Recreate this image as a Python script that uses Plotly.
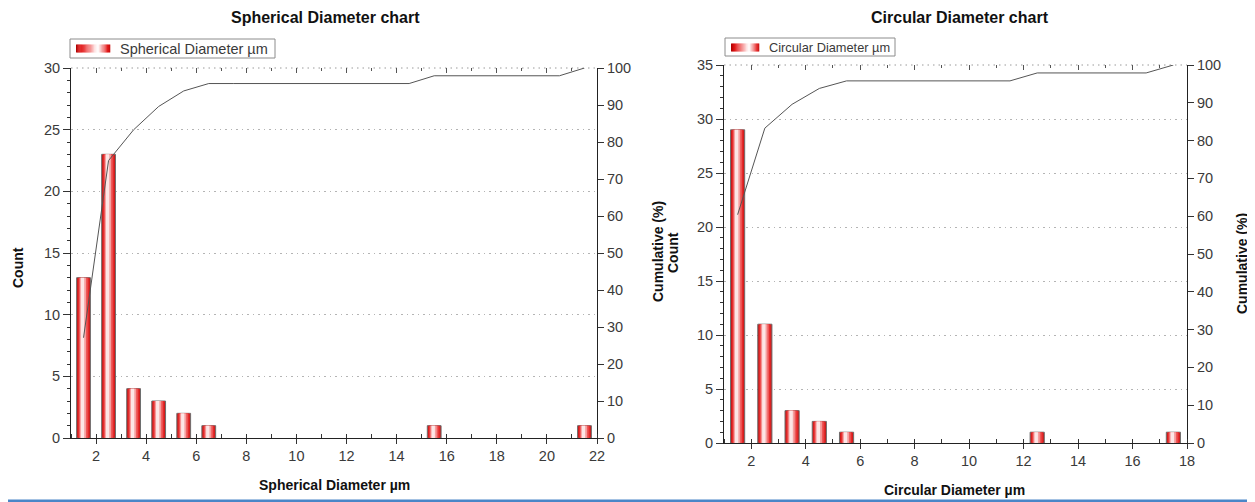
import plotly.graph_objects as go

# ---------------- data ----------------
sph_bins = [1.5, 2.5, 3.5, 4.5, 5.5, 6.5, 7.5, 8.5, 9.5, 10.5, 11.5,
            12.5, 13.5, 14.5, 15.5, 16.5, 17.5, 18.5, 19.5, 20.5, 21.5]
sph_counts = [13, 23, 4, 3, 2, 1, 0, 0, 0, 0, 0,
              0, 0, 0, 1, 0, 0, 0, 0, 0, 1]
sph_cum = [27.1, 75.0, 83.3, 89.6, 93.8, 95.8, 95.8, 95.8, 95.8, 95.8, 95.8,
           95.8, 95.8, 95.8, 97.9, 97.9, 97.9, 97.9, 97.9, 97.9, 100.0]

circ_bins = [1.5, 2.5, 3.5, 4.5, 5.5, 6.5, 7.5, 8.5, 9.5, 10.5, 11.5,
             12.5, 13.5, 14.5, 15.5, 16.5, 17.5]
circ_counts = [29, 11, 3, 2, 1, 0, 0, 0, 0, 0, 0,
               1, 0, 0, 0, 0, 1]
circ_cum = [60.4, 83.3, 89.6, 93.8, 95.8, 95.8, 95.8, 95.8, 95.8, 95.8, 95.8,
            97.9, 97.9, 97.9, 97.9, 97.9, 100.0]

sph_x_ticks = [2, 4, 6, 8, 10, 12, 14, 16, 18, 20, 22]
circ_x_ticks = [2, 4, 6, 8, 10, 12, 14, 16, 18]

# the page body has an 8px default margin: work in page pixels and shift
OX, OY = 8, 8
W, H = 1255 - OX, 502 - OY
TICKFONT = dict(family="Liberation Sans Narrow, Arial Narrow, Liberation Sans", size=14.5, color="#3a3a3a")
BOLD = "Liberation Sans, Arial"
GRID_DASH = "1.5px,4px"
GRID_COLOR = "#b4b4b4"


def fx(px):
    return (px - OX) / W


def fy(py):
    return 1 - (py - OY) / H


# cylinder-like gradient made of stacked bars (start, end fraction of width, colour)
layers = [(0.00, 1.00, "#c91616"), (0.09, 0.91, "#e52a2a"), (0.17, 0.80, "#ee5858"),
          (0.24, 0.68, "#f5a0a0"), (0.31, 0.55, "#fde6e6")]

fig = go.Figure()


def add_bars(bins, counts, width, xa, ya, name):
    vals = [c if c else None for c in counts]
    for i, (s, e, col) in enumerate(layers):
        fig.add_trace(go.Bar(
            x=bins, y=vals, xaxis=xa, yaxis=ya,
            width=width * (e - s), offset=-width / 2 + width * s,
            marker=dict(color=col,
                        line=dict(color="#6e6e6e" if i == 0 else col, width=1 if i == 0 else 0)),
            name=name, showlegend=False, hoverinfo="skip"))


add_bars(sph_bins, sph_counts, 0.55, "x", "y", "Spherical Diameter µm")
add_bars(circ_bins, circ_counts, 0.52, "x2", "y3", "Circular Diameter µm")

fig.add_trace(go.Scatter(x=sph_bins, y=sph_cum, xaxis="x", yaxis="y2", mode="lines",
                         line=dict(color="#555555", width=1), showlegend=False, hoverinfo="skip"))
fig.add_trace(go.Scatter(x=circ_bins, y=circ_cum, xaxis="x2", yaxis="y4", mode="lines",
                         line=dict(color="#555555", width=1), showlegend=False, hoverinfo="skip"))

# invisible traces so the top tick axes are drawn
fig.add_trace(go.Scatter(x=[None], y=[None], xaxis="x3", yaxis="y", showlegend=False, hoverinfo="skip"))
fig.add_trace(go.Scatter(x=[None], y=[None], xaxis="x4", yaxis="y3", showlegend=False, hoverinfo="skip"))


def dom_x(a, b):
    return [fx(a), fx(b)]


def dom_y(top, bottom):
    return [fy(bottom), fy(top)]


common_x = dict(ticks="outside", ticklen=5, tickcolor="#333", showline=True, linecolor="#222",
                linewidth=1, showgrid=False, zeroline=False, tickfont=TICKFONT, automargin=False,
                minor=dict(dtick=1, ticks="inside", ticklen=4, tickcolor="#333"))
common_yl = dict(ticks="outside", ticklen=7, tickcolor="#333", showline=True, linecolor="#222",
                 linewidth=1, showgrid=True, gridcolor=GRID_COLOR, griddash=GRID_DASH, gridwidth=1,
                 zeroline=False, tickfont=TICKFONT, automargin=False,
                 minor=dict(dtick=1, ticks="outside", ticklen=3, tickcolor="#333", showgrid=False))
common_yr = dict(ticks="outside", ticklen=6, tickcolor="#333", showline=True, linecolor="#222",
                 linewidth=1, showgrid=False, zeroline=False, tickfont=TICKFONT, dtick=10,
                 automargin=False)
common_top = dict(side="top", ticks="inside", ticklen=5, tickcolor="#555", showline=False,
                  showgrid=False, zeroline=False, showticklabels=False, automargin=False,
                  minor=dict(dtick=1, ticks="inside", ticklen=3, tickcolor="#555"))

fig.update_layout(
    width=W, height=H, margin=dict(l=0, r=0, t=0, b=0, autoexpand=False),
    paper_bgcolor="white", plot_bgcolor="white", barmode="overlay", showlegend=False,
    xaxis=dict(domain=dom_x(71, 597), range=[1, 22], anchor="y", tickvals=sph_x_ticks, **common_x),
    yaxis=dict(domain=dom_y(68, 438), range=[0, 30], dtick=5, anchor="x", **common_yl),
    yaxis2=dict(overlaying="y", side="right", anchor="x", range=[0, 100], **common_yr),
    xaxis3=dict(overlaying="x", anchor="y", range=[1, 22], dtick=2, tick0=0, **common_top),
    xaxis2=dict(domain=dom_x(724, 1187), range=[1, 18], anchor="y3", tickvals=circ_x_ticks, **common_x),
    yaxis3=dict(domain=dom_y(65, 443), range=[0, 35], dtick=5, anchor="x2", **common_yl),
    yaxis4=dict(overlaying="y3", side="right", anchor="x2", range=[0, 100], **common_yr),
    xaxis4=dict(overlaying="x2", anchor="y3", range=[1, 18], dtick=2, tick0=0, **common_top),
)

# dotted top border of each plot area
for a, b, y in [(71, 597, 68), (724, 1187, 65)]:
    fig.add_shape(type="line", xref="paper", yref="paper", x0=fx(a), x1=fx(b), y0=fy(y), y1=fy(y),
                  line=dict(color="#9a9a9a", width=1, dash=GRID_DASH), layer="below")


def ann(text, x, y, size=14, angle=0):
    fig.add_annotation(text=f"<b>{text}</b>", x=fx(x), y=fy(y), xref="paper", yref="paper",
                       showarrow=False, textangle=angle, xanchor="center", yanchor="middle",
                       font=dict(family=BOLD, size=size, color="#111"))


ann("Spherical Diameter chart", 325, 18, size=16)
ann("Circular Diameter chart", 960, 17.5, size=16)
ann("Spherical Diameter µm", 334, 485)
ann("Circular Diameter µm", 955, 490)
ann("Count", 18, 268, angle=-90)
ann("Cumulative (%)", 658, 252, angle=-90)
ann("Count", 673, 253, angle=-90)
ann("Cumulative (%)", 1242, 264, angle=-90)


# ---------------- custom legends (box, gradient swatch, text) ----------------
def hex2rgb(h):
    return tuple(int(h[i:i + 2], 16) for i in (1, 3, 5))


swatch_stops = [(0.0, "#a80000"), (0.12, "#e01414"), (0.35, "#f06a6a"),
                (0.55, "#fde0e0"), (0.65, "#ffffff"), (0.8, "#f28a8a"),
                (0.92, "#e51c1c"), (1.0, "#c40a0a")]


def swatch_color(t):
    for (t0, c0), (t1, c1) in zip(swatch_stops[:-1], swatch_stops[1:]):
        if t0 <= t <= t1:
            f = (t - t0) / (t1 - t0) if t1 > t0 else 0
            a, b = hex2rgb(c0), hex2rgb(c1)
            return "rgb(%d,%d,%d)" % tuple(round(a[k] + (b[k] - a[k]) * f) for k in range(3))
    return swatch_stops[-1][1]


def legend_box(x0, x1, y0, y1, text, size, sw):
    fig.add_shape(type="rect", xref="paper", yref="paper", x0=fx(x0), x1=fx(x1),
                  y0=fy(y1), y1=fy(y0), fillcolor="white",
                  line=dict(color="#8c8c8c", width=1), layer="above")
    sx0, sx1 = x0 + 6, x0 + 6 + sw
    sy0, sy1 = y0 + 5.5, y0 + 13.5
    n = 30
    for k in range(n):
        a = sx0 + (sx1 - sx0) * k / n
        b = sx0 + (sx1 - sx0) * (k + 1) / n
        fig.add_shape(type="rect", xref="paper", yref="paper", x0=fx(a), x1=fx(b + 0.3),
                      y0=fy(sy1), y1=fy(sy0), fillcolor=swatch_color((k + 0.5) / n),
                      line=dict(width=0), layer="above")
    fig.add_annotation(text=text, x=fx(sx1 + 8), y=fy((y0 + y1) / 2), xref="paper",
                       yref="paper", showarrow=False, xanchor="left", yanchor="middle",
                       font=dict(TICKFONT, size=size))


legend_box(70, 275, 39, 58, "Spherical Diameter µm", 14.5, 34)
legend_box(725, 895, 38, 56, "Circular Diameter µm", 12.8, 28)

fig.add_shape(type="rect", xref="paper", yref="paper", x0=fx(3), x1=fx(1252),
              y0=fy(502), y1=fy(499.4), fillcolor="#4a86c8", line=dict(width=0), layer="above")

fig.write_html("out.html")
